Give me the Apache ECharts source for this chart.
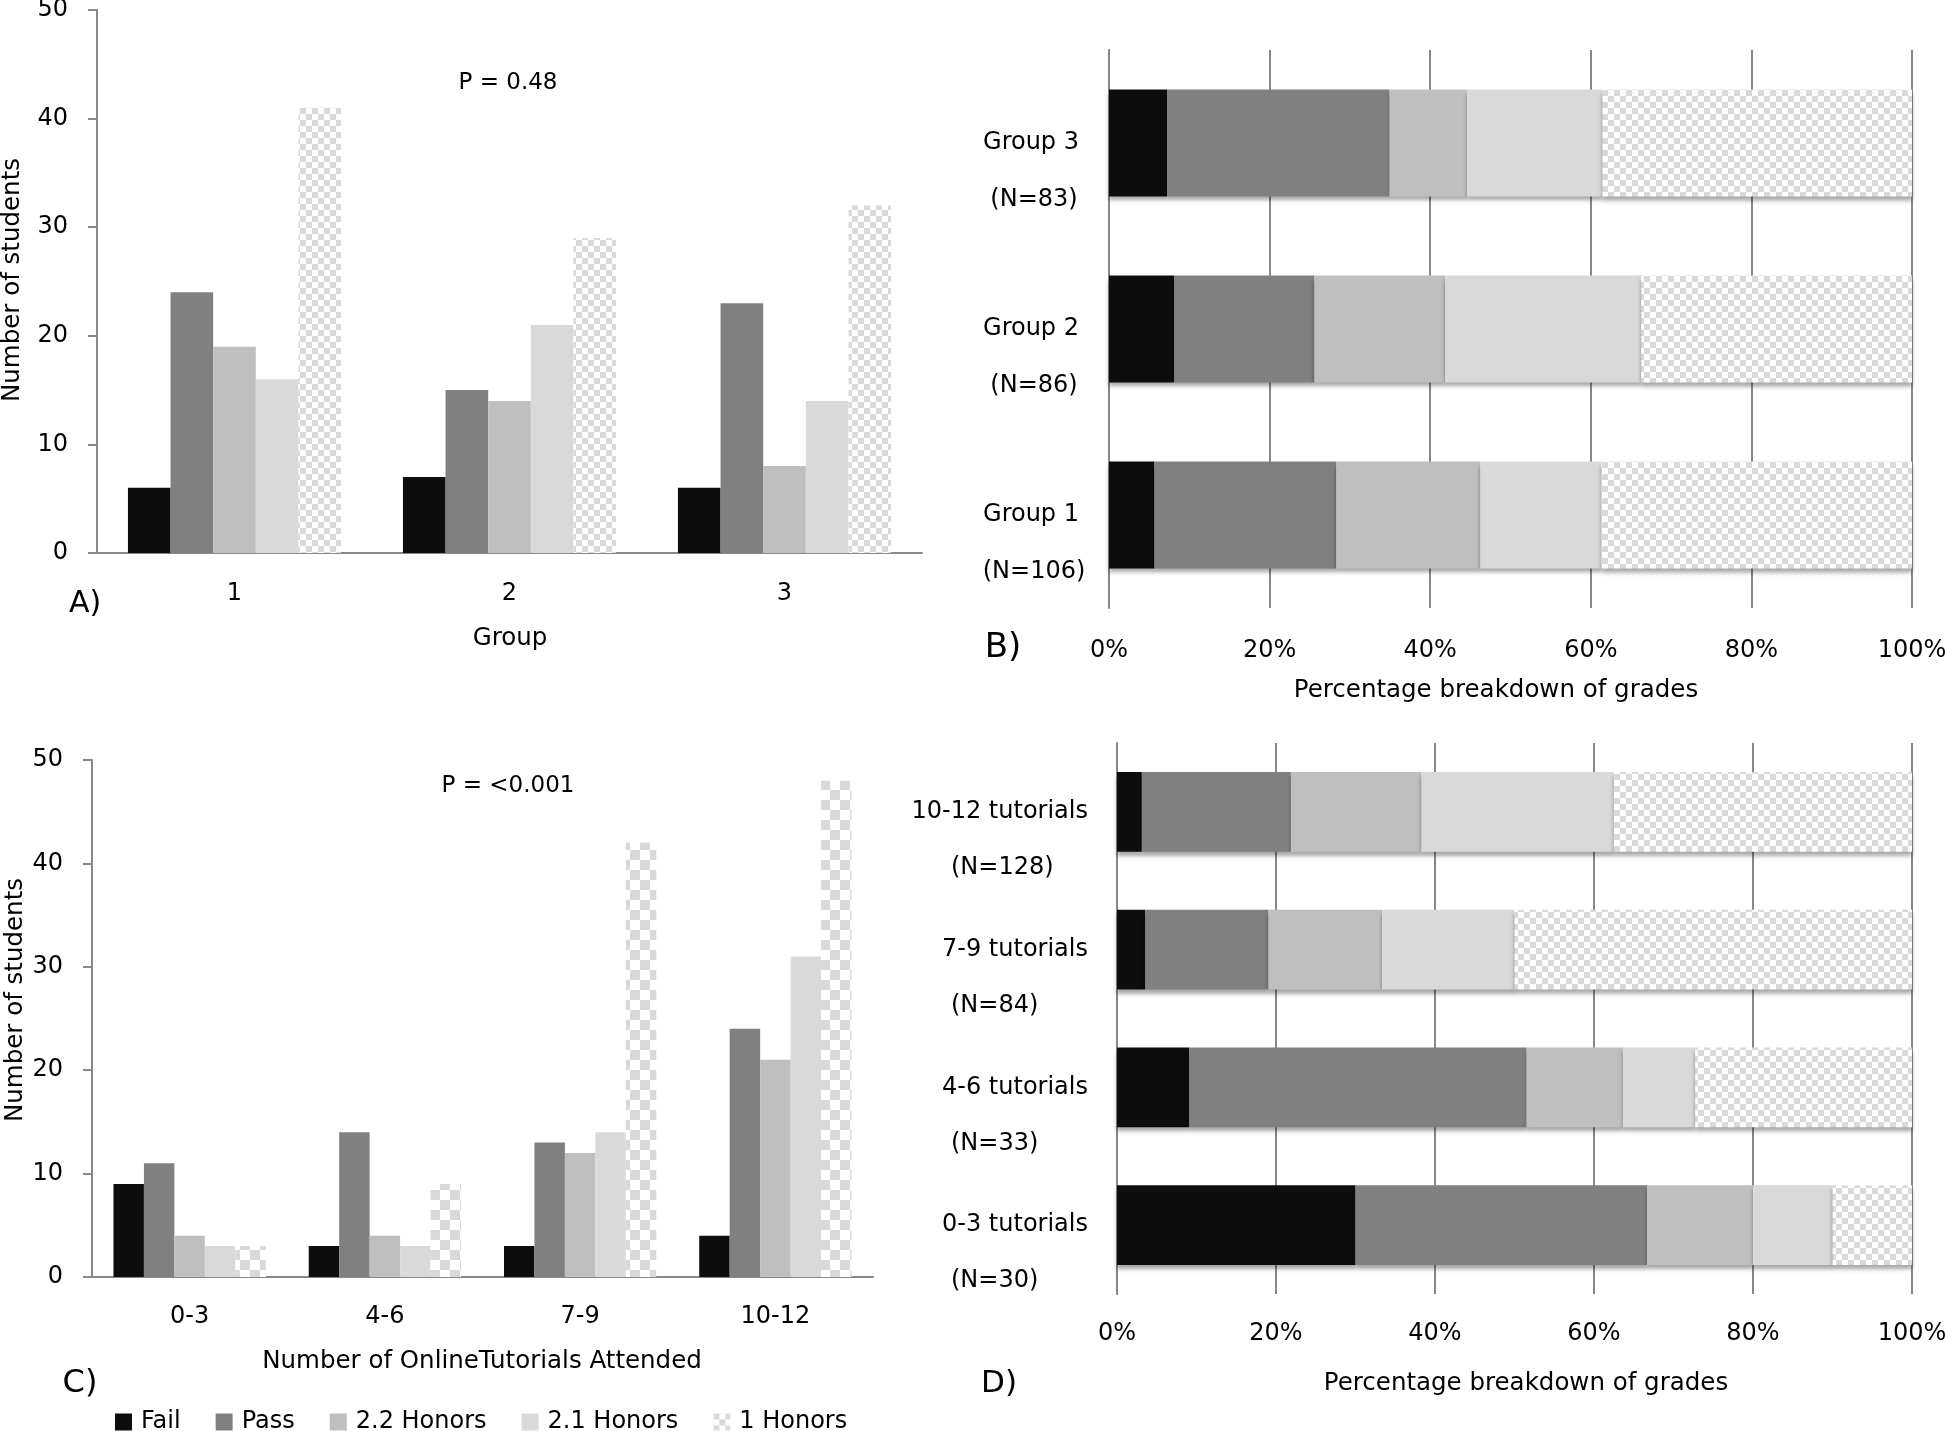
<!DOCTYPE html>
<html><head><meta charset="utf-8">
<script src="https://cdn.jsdelivr.net/npm/echarts@6/dist/echarts.min.js"></script>
<style>html,body{margin:0;padding:0;background:#fff}#c{width:1945px;height:1431px}</style>
</head><body><div id="c"></div>
<script>
// ---- data ----
const gradeNames = ['Fail', 'Pass', '2.2 Honors', '2.1 Honors', '1 Honors'];

const groupCategories = ['1', '2', '3'];
const groupFail = [6, 7, 6];
const groupPass = [24, 15, 23];
const groupHon22 = [19, 14, 8];
const groupHon21 = [16, 21, 14];
const groupHon1 = [41, 29, 32];
const groupLabels = ['Group 1', 'Group 2', 'Group 3'];
const groupNLabels = ['(N=106)', '(N=86)', '(N=83)'];

const tutCategories = ['0-3', '4-6', '7-9', '10-12'];
const tutFail = [9, 3, 3, 4];
const tutPass = [11, 14, 13, 24];
const tutHon22 = [4, 4, 12, 21];
const tutHon21 = [3, 3, 14, 31];
const tutHon1 = [3, 9, 42, 48];
const tutLabels = ['0-3 tutorials', '4-6 tutorials', '7-9 tutorials', '10-12 tutorials'];
const tutNLabels = ['(N=30)', '(N=33)', '(N=84)', '(N=128)'];

const countTicksMax = 50, countTicksStep = 10;
const pctTicksMax = 100, pctTicksStep = 20;

// ---- styling ----
const FONT = 'DejaVu Sans';
const AX = '#898989';
const GL = '#878787';
function checker(size) {
  const c = document.createElement('canvas');
  c.width = c.height = size * 2;
  const g = c.getContext('2d');
  g.fillStyle = '#ffffff'; g.fillRect(0, 0, size * 2, size * 2);
  g.fillStyle = '#d9d9d9'; g.fillRect(0, 0, size, size); g.fillRect(size, size, size, size);
  return { image: c, repeat: 'repeat' };
}
const colorsSmall = ['#0d0d0d', '#808080', '#bfbfbf', '#d9d9d9', checker(6)];
const colorsBig = ['#0d0d0d', '#808080', '#bfbfbf', '#d9d9d9', checker(10)];

const groupSeries = [groupFail, groupPass, groupHon22, groupHon21, groupHon1];
const tutSeries = [tutFail, tutPass, tutHon22, tutHon21, tutHon1];
function totals(rows) { return rows[0].map((_, j) => rows.reduce((s, r) => s + r[j], 0)); }
const groupTotals = totals(groupSeries);
const tutTotals = totals(tutSeries);

const lbl = { fontFamily: FONT, fontSize: 24, color: '#000' };

const series = [];
gradeNames.forEach((name, i) => {
  series.push({ name, type: 'bar', xAxisIndex: 0, yAxisIndex: 0, data: groupSeries[i],
    barGap: '0%', barCategoryGap: '22.5%', itemStyle: { color: colorsSmall[i] } });
  series.push({ name, type: 'bar', xAxisIndex: 1, yAxisIndex: 1, stack: 'B',
    data: groupSeries[i].map((v, j) => v / groupTotals[j] * 100),
    barCategoryGap: '42.5%',
    itemStyle: { color: colorsSmall[i], shadowColor: 'rgba(0,0,0,0.35)', shadowBlur: 4, shadowOffsetY: 4 } });
  series.push({ name, type: 'bar', xAxisIndex: 2, yAxisIndex: 3, data: tutSeries[i],
    barGap: '0%', barCategoryGap: '22%', itemStyle: { color: colorsBig[i] } });
  series.push({ name, type: 'bar', xAxisIndex: 3, yAxisIndex: 4, stack: 'D',
    data: tutSeries[i].map((v, j) => v / tutTotals[j] * 100),
    barCategoryGap: '42%',
    itemStyle: { color: colorsSmall[i], shadowColor: 'rgba(0,0,0,0.35)', shadowBlur: 4, shadowOffsetY: 4 } });
});

function catX(data, margin) {
  return { type: 'category', data, axisLine: { show: true, lineStyle: { color: AX, width: 2 } },
    axisTick: { show: false }, splitLine: { show: false },
    axisLabel: Object.assign({ margin, interval: 0 }, lbl) };
}
function valY(margin) {
  return { type: 'value', min: 0, max: countTicksMax, interval: countTicksStep,
    axisLine: { show: true, lineStyle: { color: AX, width: 2 } },
    axisTick: { show: true, length: 9, inside: false, lineStyle: { color: AX, width: 2 } },
    splitLine: { show: false }, axisLabel: Object.assign({ margin }, lbl) };
}
function pctX(margin) {
  return { type: 'value', min: 0, max: pctTicksMax, interval: pctTicksStep,
    axisLine: { show: false }, axisTick: { show: false },
    splitLine: { show: true, lineStyle: { color: GL, width: 2 } },
    axisLabel: Object.assign({ margin, formatter: '{value}%' }, lbl) };
}
function catY(data, margin, align, lower, showLine) {
  const al = Object.assign({ margin, align, interval: 0 }, lbl);
  if (lower) {
    // second text line, placed one line-step below the category tick
    al.lineHeight = lower;
    al.verticalAlign = 'middle';
    al.formatter = v => '\n\n' + v;
  }
  return { type: 'category', data, position: 'left',
    axisLine: { show: showLine, lineStyle: { color: GL, width: 2 } },
    axisTick: { show: false }, splitLine: { show: false },
    axisLabel: al };
}

function txt(text, x, y, size, rot) {
  return { type: 'text', x, y, rotation: rot || 0,
    style: { text, fontFamily: FONT, fontSize: size, fill: '#000',
      align: 'center', verticalAlign: 'middle', textAlign: 'center', textVerticalAlign: 'middle' } };
}

const option = {
  backgroundColor: '#ffffff',
  animation: false,
  grid: [
    { left: 97, top: 10, width: 825, height: 543, containLabel: false, outerBoundsMode: 'none' },
    { left: 1109, top: 50, width: 803, height: 558, containLabel: false, outerBoundsMode: 'none' },
    { left: 92, top: 760, width: 781, height: 517, containLabel: false, outerBoundsMode: 'none' },
    { left: 1117, top: 743, width: 795, height: 551, containLabel: false, outerBoundsMode: 'none' }
  ],
  xAxis: [
    Object.assign({ gridIndex: 0 }, catX(groupCategories, 29)),
    Object.assign({ gridIndex: 1 }, pctX(31)),
    Object.assign({ gridIndex: 2 }, catX(tutCategories, 28)),
    Object.assign({ gridIndex: 3 }, pctX(28))
  ],
  yAxis: [
    Object.assign({ gridIndex: 0 }, valY(29)),
    Object.assign({ gridIndex: 1 }, catY(groupLabels, 30, 'right', 0, true)),
    Object.assign({ gridIndex: 1 }, catY(groupNLabels, 75, 'center', 57, false)),
    Object.assign({ gridIndex: 2 }, valY(29)),
    Object.assign({ gridIndex: 3 }, catY(tutLabels, 29, 'right', 0, true)),
    Object.assign({ gridIndex: 3 }, catY(tutNLabels, 166, 'left', 56, false))
  ],
  legend: {
    data: gradeNames, left: 115, top: 1410, padding: 0, itemGap: 35,
    itemWidth: 17, itemHeight: 17, icon: 'rect',
    textStyle: { fontFamily: FONT, fontSize: 24, color: '#000', padding: [0, 0, 0, 4] }
  },
  graphic: [
    txt('P = 0.48', 508, 83, 23),
    txt('P = <0.001', 508, 786, 23),
    txt('Number of students', 13, 280, 24.5, Math.PI / 2),
    txt('Number of students', 16, 1000, 24.5, Math.PI / 2),
    txt('Group', 510, 639, 24.5),
    txt('Number of OnlineTutorials Attended', 482, 1362, 24.5),
    txt('Percentage breakdown of grades', 1496, 691, 24.5),
    txt('Percentage breakdown of grades', 1526, 1384, 24.5),
    txt('A)', 85, 604, 30),
    txt('B)', 1003, 648, 34),
    txt('C)', 80, 1384, 32),
    txt('D)', 999, 1384, 31)
  ],
  series
};
echarts.init(document.getElementById('c')).setOption(option);
</script></body></html>
